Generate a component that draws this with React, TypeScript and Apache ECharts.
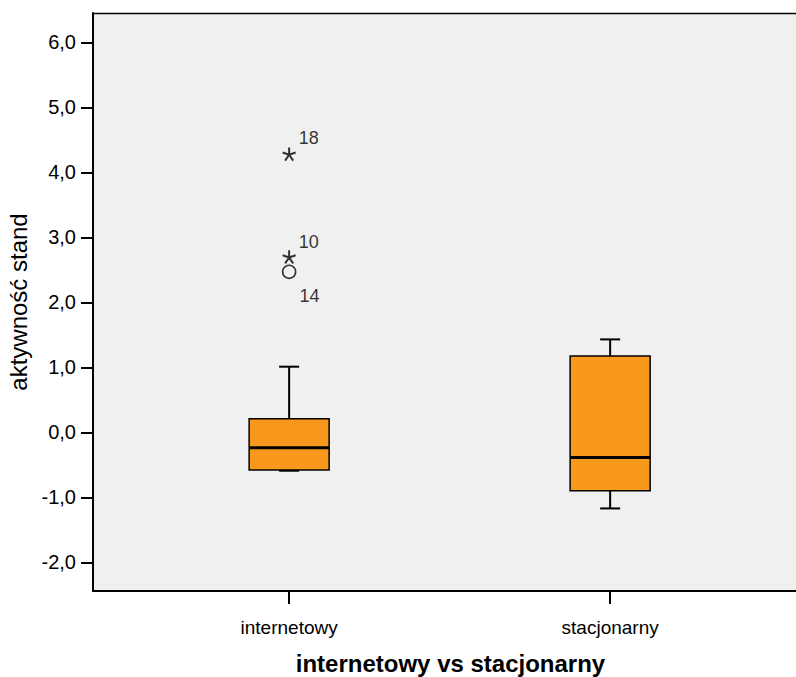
import React, { useEffect, useRef } from "react";
import * as echarts from "echarts";

// ---- data ----
const categories = ["internetowy", "stacjonarny"];
// [min, Q1, median, Q3, max]
const internetowyBox = [-0.59, -0.58, -0.235, 0.21, 1.01];
const stacjonarnyBox = [-1.17, -0.9, -0.385, 1.175, 1.43];
const outlierIds = ["18", "10", "14"];
const outlierCategory = [0, 0, 0];
const outlierValues = [4.28, 2.7, 2.47];
const outlierKinds = ["extreme", "extreme", "outlier"];
const yTicks = [-2, -1, 0, 1, 2, 3, 4, 5, 6];
const yTickLabels = ["-2,0", "-1,0", "0,0", "1,0", "2,0", "3,0", "4,0", "5,0", "6,0"];
const xTicks = [0, 1];

// ---- styling ----
const FONT = "Liberation Sans, Arial, sans-serif";
const BOX_FILL = "#F8981D";
const BG = "#F0F0F0";
const labelOffsets: Record<string, { distance: number; offset: [number, number] }> = {
  "18": { distance: 2, offset: [0, -16] },
  "10": { distance: 2, offset: [0, -15] },
  "14": { distance: 3, offset: [0, 24] },
};
const STAR_PATH =
  "path://M0,0L0,-10M0,0L9.51,-3.09M0,0L5.88,8.09M0,0L-5.88,8.09M0,0L-9.51,-3.09";

export default function App() {
  const ref = useRef<HTMLDivElement>(null);
  useEffect(() => {
    if (!ref.current) return;
    const chart = echarts.init(ref.current, null, { renderer: "svg" });
    const boxData = [
      [0, ...internetowyBox],
      [1, ...stacjonarnyBox],
    ];
    const outlierData = outlierIds.map((id, i) => {
      const extreme = outlierKinds[i] === "extreme";
      return {
        name: id,
        value: [outlierCategory[i], outlierValues[i]],
        symbol: extreme ? STAR_PATH : "circle",
        symbolSize: extreme ? 13 : 13,
        itemStyle: { color: "transparent", borderColor: "#000", borderWidth: extreme ? 2 : 1.6 },
        label: {
          show: true,
          position: "right",
          distance: labelOffsets[id].distance,
          offset: labelOffsets[id].offset,
          formatter: id,
          color: "#000",
          fontSize: 18,
          fontFamily: FONT,
        },
      };
    });
    const option: any = {
      animation: false,
      backgroundColor: "#fff",
      grid: {
        left: 93,
        top: 13,
        width: 703,
        height: 578,
        show: true,
        backgroundColor: BG,
        borderWidth: 0,
        containLabel: false,
        outerBoundsMode: "none",
      },
      xAxis: {
        type: "value",
        min: -0.611,
        max: 1.579,
        splitLine: { show: false },
        axisLine: { show: true, onZero: false, lineStyle: { color: "#000", width: 2 } },
        axisTick: { show: true, customValues: xTicks, length: 13, lineStyle: { color: "#000", width: 2 } },
        axisLabel: {
          customValues: xTicks,
          formatter: (v: number) => categories[Math.round(v)] ?? "",
          color: "#000",
          fontSize: 19,
          fontFamily: FONT,
          margin: 27,
        },
        name: "internetowy vs stacjonarny",
        nameLocation: "middle",
        nameGap: 60,
        nameTextStyle: {
          fontSize: 24,
          fontWeight: "bold",
          color: "#000",
          fontFamily: FONT,
          padding: [0, 0, 0, 12],
        },
      },
      yAxis: {
        type: "value",
        min: -2.44,
        max: 6.45,
        splitLine: { show: false },
        axisLine: { show: true, onZero: false, lineStyle: { color: "#000", width: 2 } },
        axisTick: { show: true, customValues: yTicks, length: 12, lineStyle: { color: "#000", width: 2 } },
        axisLabel: {
          customValues: yTicks,
          formatter: (v: number) => {
            const i = yTicks.findIndex((t) => Math.abs(t - v) < 1e-6);
            return i >= 0 ? yTickLabels[i] : "";
          },
          color: "#000",
          fontSize: 20,
          fontFamily: FONT,
          margin: 17,
        },
        name: "aktywność stand",
        nameLocation: "middle",
        nameGap: 59,
        nameTextStyle: { fontSize: 24, color: "#000", fontFamily: FONT },
      },
      graphic: [
        {
          type: "line",
          shape: { x1: 93, y1: 13.5, x2: 796, y2: 13.5 },
          style: { stroke: "#000", lineWidth: 1.5 },
          z: 10,
        },
      ],
      series: [
        {
          type: "custom",
          data: boxData,
          encode: { x: 0, y: [1, 2, 3, 4, 5] },
          renderItem: (params: any, api: any) => {
            const x = api.value(0);
            const pMin = api.coord([x, api.value(1)]);
            const pQ1 = api.coord([x, api.value(2)]);
            const pMed = api.coord([x, api.value(3)]);
            const pQ3 = api.coord([x, api.value(4)]);
            const pMax = api.coord([x, api.value(5)]);
            const cx = pMed[0];
            const half = 40;
            const cap = 10;
            const line = (x1: number, y1: number, x2: number, y2: number, w: number) => ({
              type: "line",
              shape: { x1, y1, x2, y2 },
              style: { stroke: "#000", lineWidth: w },
            });
            return {
              type: "group",
              children: [
                line(cx, pMax[1], cx, pQ3[1], 2),
                line(cx, pQ1[1], cx, pMin[1], 2),
                line(cx - cap, pMax[1], cx + cap, pMax[1], 2),
                line(cx - cap, pMin[1], cx + cap, pMin[1], 2),
                {
                  type: "rect",
                  shape: { x: cx - half, y: pQ3[1], width: half * 2, height: pQ1[1] - pQ3[1] },
                  style: { fill: BOX_FILL, stroke: "#000", lineWidth: 1.5 },
                },
                line(cx - half, pMed[1], cx + half, pMed[1], 3),
              ],
            };
          },
          z: 2,
        },
        {
          type: "scatter",
          data: outlierData,
          z: 3,
        },
      ],
    };
    chart.setOption(option);
    return () => chart.dispose();
  }, []);
  return (
    <div
      ref={ref}
      style={{ position: "fixed", left: 0, top: 0, width: 796, height: 677 }}
    />
  );
}
